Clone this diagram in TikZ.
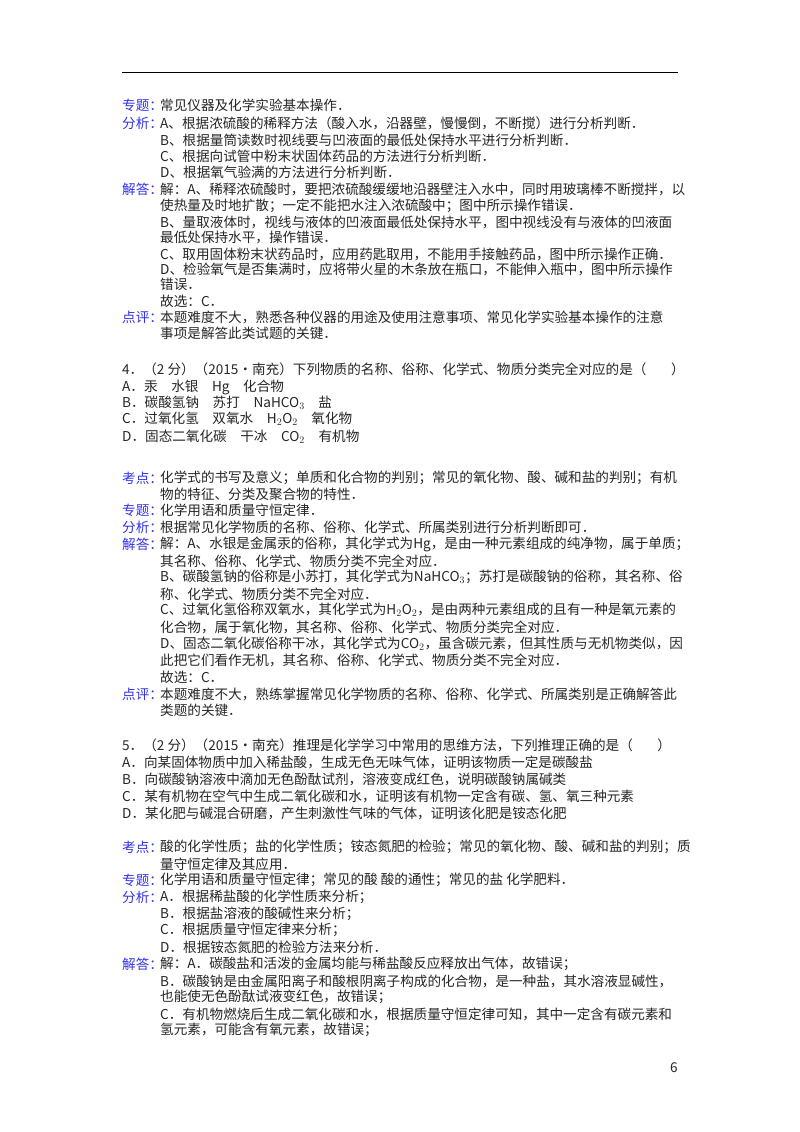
\documentclass[tikz,border=0pt]{standalone}
\usepackage{fontspec}
\setmainfont{Noto Sans CJK SC}
\newfontfamily\cjk{Noto Sans CJK SC}
\definecolor{lab}{RGB}{50,50,235}
\begin{document}
\begin{tikzpicture}[x=1pt,y=-1pt,
  tx/.style={anchor=west,inner sep=0pt,font=\cjk\fontsize{13.6}{13}\selectfont,text=black!85},
  lb/.style={tx,text=lab}]
\useasboundingbox[fill=white] (0,0) rectangle (800,1132);
\draw[line width=0.8pt] (122,72) -- (678,72);
% block 1
\node[lb] (l1) at (122,105) {专题：};
\node[tx] (t1) at (160,105) {常见仪器及化学实验基本操作．};
\node[lb] (l2) at (122,123) {分析：};
\node[tx] at (160,123) {A、根据浓硫酸的稀释方法（酸入水，沿器壁，慢慢倒，不断搅）进行分析判断．};
\node[tx] at (160,140) {B、根据量筒读数时视线要与凹液面的最低处保持水平进行分析判断．};
\node[tx] at (160,156) {C、根据向试管中粉末状固体药品的方法进行分析判断．};
\node[tx] at (160,172) {D、根据氧气验满的方法进行分析判断．};
\node[lb] at (122,189) {解答：};
\node[tx] at (160,189) {解：A、稀释浓硫酸时，要把浓硫酸缓缓地沿器壁注入水中，同时用玻璃棒不断搅拌，以};
\node[tx] at (160,206) {使热量及时地扩散；一定不能把水注入浓硫酸中；图中所示操作错误．};
\node[tx] at (160,222) {B、量取液体时，视线与液体的凹液面最低处保持水平，图中视线没有与液体的凹液面};
\node[tx] at (160,238) {最低处保持水平，操作错误．};
\node[tx] at (160,254) {C、取用固体粉末状药品时，应用药匙取用，不能用手接触药品，图中所示操作正确．};
\node[tx] at (160,269) {D、检验氧气是否集满时，应将带火星的木条放在瓶口，不能伸入瓶中，图中所示操作};
\node[tx] at (160,284) {错误．};
\node[tx] at (160,301) {故选：C．};
\node[lb] at (122,317) {点评：};
\node[tx] at (160,317) {本题难度不大，熟悉各种仪器的用途及使用注意事项、常见化学实验基本操作的注意};
\node[tx] at (160,333) {事项是解答此类试题的关键．};
% block 2
\node[tx] at (122,369) {4．（2 分）（2015•南充）下列物质的名称、俗称、化学式、物质分类完全对应的是（\hspace{1.8em}）};
\node[tx] at (122,387) {A．汞\quad 水银\quad Hg\quad 化合物};
\node[tx] at (122,403) {B．碳酸氢钠\quad 苏打\quad NaHCO$_3$\quad 盐};
\node[tx] at (122,419) {C．过氧化氢\quad 双氧水\quad H$_2$O$_2$\quad 氧化物};
\node[tx] at (122,437) {D．固态二氧化碳\quad 干冰\quad CO$_2$\quad 有机物};
\node[lb] at (122,478) {考点：};
\node[tx] at (160,478) {化学式的书写及意义；单质和化合物的判别；常见的氧化物、酸、碱和盐的判别；有机};
\node[tx] at (160,494) {物的特征、分类及聚合物的特性．};
\node[lb] at (122,510) {专题：};
\node[tx] at (160,510) {化学用语和质量守恒定律．};
\node[lb] at (122,527) {分析：};
\node[tx] at (160,527) {根据常见化学物质的名称、俗称、化学式、所属类别进行分析判断即可．};
\node[lb] at (122,544) {解答：};
\node[tx] at (160,544) {解：A、水银是金属汞的俗称，其化学式为Hg，是由一种元素组成的纯净物，属于单质；};
\node[tx] at (160,561) {其名称、俗称、化学式、物质分类不完全对应．};
\node[tx] at (160,577) {B、碳酸氢钠的俗称是小苏打，其化学式为NaHCO$_3$；苏打是碳酸钠的俗称，其名称、俗};
\node[tx] at (160,594) {称、化学式、物质分类不完全对应．};
\node[tx] at (160,610) {C、过氧化氢俗称双氧水，其化学式为H$_2$O$_2$，是由两种元素组成的且有一种是氧元素的};
\node[tx] at (160,627) {化合物，属于氧化物，其名称、俗称、化学式、物质分类完全对应．};
\node[tx] at (160,644) {D、固态二氧化碳俗称干冰，其化学式为CO$_2$，虽含碳元素，但其性质与无机物类似，因};
\node[tx] at (160,660) {此把它们看作无机，其名称、俗称、化学式、物质分类不完全对应．};
\node[tx] at (160,677) {故选：C．};
\node[lb] at (122,694) {点评：};
\node[tx] at (160,694) {本题难度不大，熟练掌握常见化学物质的名称、俗称、化学式、所属类别是正确解答此};
\node[tx] at (160,710) {类题的关键．};
% block 3
\node[tx] at (122,745) {5．（2 分）（2015•南充）推理是化学学习中常用的思维方法，下列推理正确的是（\hspace{1.8em}）};
\node[tx] at (122,762) {A．向某固体物质中加入稀盐酸，生成无色无味气体，证明该物质一定是碳酸盐};
\node[tx] at (122,779) {B．向碳酸钠溶液中滴加无色酚酞试剂，溶液变成红色，说明碳酸钠属碱类};
\node[tx] at (122,796) {C．某有机物在空气中生成二氧化碳和水，证明该有机物一定含有碳、氢、氧三种元素};
\node[tx] at (122,813) {D．某化肥与碱混合研磨，产生刺激性气味的气体，证明该化肥是铵态化肥};
\node[lb] at (122,847) {考点：};
\node[tx] at (160,847) {酸的化学性质；盐的化学性质；铵态氮肥的检验；常见的氧化物、酸、碱和盐的判别；质};
\node[tx] at (160,864) {量守恒定律及其应用．};
\node[lb] at (122,880) {专题：};
\node[tx] at (160,880) {化学用语和质量守恒定律；常见的酸\ 酸的通性；常见的盐\ 化学肥料．};
\node[lb] at (122,897) {分析：};
\node[tx] at (160,897) {A．根据稀盐酸的化学性质来分析；};
\node[tx] at (160,914) {B．根据盐溶液的酸碱性来分析；};
\node[tx] at (160,930) {C．根据质量守恒定律来分析；};
\node[tx] at (160,947) {D．根据铵态氮肥的检验方法来分析．};
\node[lb] at (122,964) {解答：};
\node[tx] at (160,964) {解：A．碳酸盐和活泼的金属均能与稀盐酸反应释放出气体，故错误；};
\node[tx] at (160,981) {B．碳酸钠是由金属阳离子和酸根阴离子构成的化合物，是一种盐，其水溶液显碱性，};
\node[tx] at (160,997) {也能使无色酚酞试液变红色，故错误；};
\node[tx] at (160,1014) {C．有机物燃烧后生成二氧化碳和水，根据质量守恒定律可知，其中一定含有碳元素和};
\node[tx] at (160,1030) {氢元素，可能含有氧元素，故错误；};
\node[tx] (pg) at (670,1068) {6};
\end{tikzpicture}
\end{document}
